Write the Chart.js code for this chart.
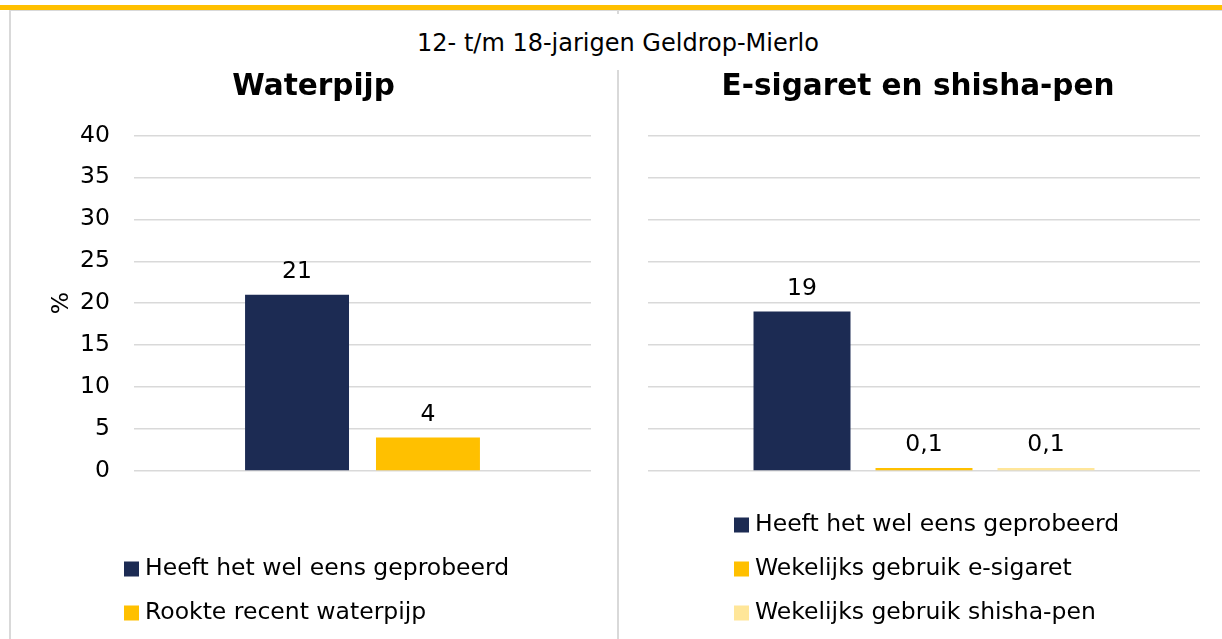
<!DOCTYPE html>
<html lang="nl">
<head>
<meta charset="utf-8">
<title>Waterpijp en e-sigaret</title>
<script src="https://cdn.jsdelivr.net/npm/chart.js@4/dist/chart.umd.min.js"></script>
<style>
  html, body { margin: 0; padding: 0; background: #fff; }
  body {
    width: 1222px; height: 639px; position: relative; overflow: hidden;
    font-family: "DejaVu Sans", Verdana, sans-serif; color: #000;
  }
  /* kader en scheidingslijnen */
  .band { position: absolute; left: 0; top: 5px; width: 1222px; height: 5px; background: #FFC000; }
  .rule-top { position: absolute; left: 10px; top: 10px; width: 1212px; height: 1px; background: #D9D9D9; }
  .rule-left { position: absolute; left: 9px; top: 10px; width: 2px; height: 629px; background: #D9D9D9; }
  .divider { position: absolute; left: 617px; top: 70px; width: 2px; height: 569px; background: #D9D9D9; }
  .stub { position: absolute; left: 617px; top: 10px; width: 2px; height: 4px; background: #D9D9D9; }
  .heading {
    position: absolute; left: 0; top: 29px; width: 1236px;
    text-align: center; font-size: 24px; line-height: 28px;
  }
  canvas { position: absolute; top: 60px; }
  #waterpijp { left: 10px; }
  #esigaret { left: 619px; }
</style>
</head>
<body>
<div class="band"></div>
<div class="rule-top"></div>
<div class="rule-left"></div>
<div class="stub"></div>
<div class="divider"></div>
<div class="heading">12- t/m 18-jarigen Geldrop-Mierlo</div>
<canvas id="waterpijp" width="581" height="579"></canvas>
<canvas id="esigaret" width="581" height="579"></canvas>

<script>
// ---- gegevens ----
const waterpijpSeries = ['Heeft het wel eens geprobeerd', 'Rookte recent waterpijp'];
const waterpijpValues = [21, 4];

const esigaretSeries = ['Heeft het wel eens geprobeerd', 'Wekelijks gebruik e-sigaret', 'Wekelijks gebruik shisha-pen'];
const esigaretValues = [19, 0.1, 0.1];

const yTickValues = [0, 5, 10, 15, 20, 25, 30, 35, 40];

const NAVY = '#1C2B53';
const GOLD = '#FFC000';
const PALE = '#FFE699';
const GRID = '#D9D9D9';
const FONT = '"DejaVu Sans", Verdana, sans-serif';

Chart.defaults.font.family = FONT;
Chart.defaults.color = '#000';

// getal met komma als decimaalteken
const fmt = v => String(v).replace('.', ',');

// waarde boven elke staaf
const valueLabels = {
  id: 'valueLabels',
  afterDatasetsDraw(chart) {
    const ctx = chart.ctx;
    ctx.save();
    ctx.font = '23.5px ' + FONT;
    ctx.fillStyle = '#000';
    ctx.textAlign = 'center';
    ctx.textBaseline = 'middle';
    chart.data.datasets.forEach((ds, i) => {
      chart.getDatasetMeta(i).data.forEach((bar, j) => {
        ctx.fillText(fmt(ds.data[j]), bar.x, bar.y - 23);
      });
    });
    ctx.restore();
  }
};

// legenda als verticale lijst onder de grafiek
const stackedLegend = {
  id: 'stackedLegend',
  afterDraw(chart, args, opts) {
    const ctx = chart.ctx;
    const sets = chart.data.datasets;
    const n = sets.length;
    ctx.save();
    ctx.font = '23.5px ' + FONT;
    ctx.textAlign = 'left';
    ctx.textBaseline = 'middle';
    sets.forEach((ds, i) => {
      const y = opts.lastRow - (n - 1 - i) * opts.rowGap;
      ctx.fillStyle = ds.backgroundColor;
      ctx.fillRect(opts.x, y - 7.5, 15, 15);
      ctx.fillStyle = '#000';
      ctx.fillText(ds.label, opts.x + 21, y);
    });
    ctx.restore();
  }
};

function buildChart(id, title, series, values, colors, opts) {
  const datasets = series.map((name, i) => ({
    label: name,
    data: [values[i]],
    backgroundColor: colors[i],
    borderWidth: 0,
    categoryPercentage: opts.catPct,
    barPercentage: opts.barPct,
    minBarLength: 3
  }));

  return new Chart(document.getElementById(id), {
    type: 'bar',
    data: { labels: [''], datasets },
    plugins: [valueLabels, stackedLegend],
    options: {
      responsive: false,
      animation: false,
      events: [],
      layout: { padding: { left: opts.padLeft, right: 0, top: 0, bottom: 168 } },
      plugins: {
        legend: { display: false },
        tooltip: { enabled: false },
        title: {
          display: true,
          text: title,
          color: '#000',
          font: { size: 29.5, weight: 'bold' },
          padding: { top: 10, bottom: 30 }
        },
        stackedLegend: { x: opts.legendX, lastRow: 553, rowGap: 44 }
      },
      scales: {
        x: { display: false },
        y: {
          min: 0,
          max: 40,
          afterBuildTicks: scale => { scale.ticks = yTickValues.map(v => ({ value: v })); },
          afterFit: scale => { scale.width = opts.axisWidth; },
          grid: { color: GRID, lineWidth: 1.5, drawTicks: false },
          border: { display: false },
          ticks: {
            display: opts.showTicks,
            padding: 24,
            color: '#000',
            font: { size: 23.5 }
          },
          title: {
            display: opts.showTicks,
            text: '%',
            color: '#000',
            font: { size: 23.5 },
            padding: { top: 12, bottom: 0 }
          }
        }
      }
    }
  });
}

buildChart('waterpijp', 'Waterpijp', waterpijpSeries, waterpijpValues, [NAVY, GOLD], {
  catPct: 0.573, barPct: 0.794, padLeft: 26, axisWidth: 98, showTicks: true, legendX: 114
});

buildChart('esigaret', 'E-sigaret en shisha-pen', esigaretSeries, esigaretValues, [NAVY, GOLD, PALE], {
  catPct: 0.663, barPct: 0.795, padLeft: 17, axisWidth: 12, showTicks: false, legendX: 115
});
</script>
</body>
</html>
